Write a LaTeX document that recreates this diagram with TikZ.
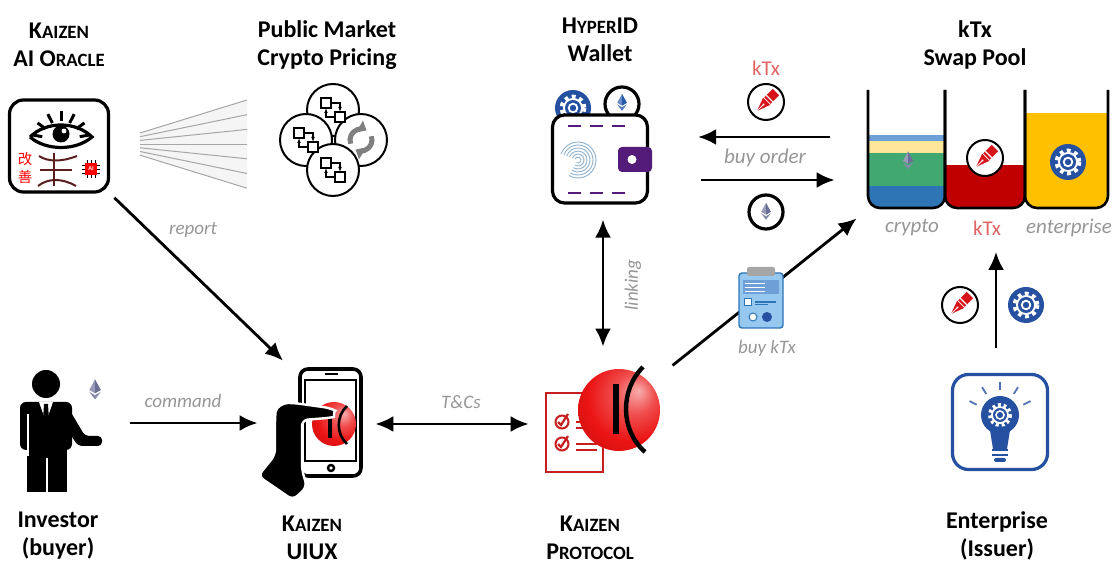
\documentclass[tikz,border=0pt]{standalone}
\usepackage{fontspec}
\setmainfont{Carlito}
\newfontfamily\cjk{Noto Sans CJK SC}
\usetikzlibrary{arrows.meta,positioning,calc}

\definecolor{lblgray}{RGB}{150,150,150}
\definecolor{ktxred}{RGB}{225,100,100}
\definecolor{gearblue}{RGB}{38,80,160}
\definecolor{walletpurple}{RGB}{84,28,120}
\definecolor{ethgray}{RGB}{105,110,150}
\definecolor{ethblue}{RGB}{40,90,170}
\definecolor{nibred}{RGB}{215,20,25}
\definecolor{docred}{RGB}{200,30,30}
\definecolor{pblue}{RGB}{46,117,182}
\definecolor{pltblue}{RGB}{110,160,215}
\definecolor{pyellow}{RGB}{255,230,153}
\definecolor{pgreen}{RGB}{64,168,112}
\definecolor{pred}{RGB}{192,0,0}
\definecolor{pgold}{RGB}{255,192,0}
\definecolor{clipblue}{RGB}{150,200,240}
\definecolor{kanji}{RGB}{90,30,30}
\definecolor{ballred}{RGB}{235,20,20}

\pgfdeclareradialshading{kzball}{\pgfpoint{12bp}{12bp}}{%
  color(0bp)=(ballred!35!white); color(12bp)=(ballred!75!white);
  color(26bp)=(ballred); color(45bp)=(ballred!80!black); color(60bp)=(ballred!70!black)}

% fake small caps for the bold titles
\newcommand{\kzsc}[2]{#1{\fontsize{9.4}{14}\selectfont #2}}

% ethereum diamond, #1 centre, #2 scale, #3 colour
\newcommand{\ethlogo}[3]{%
  \begin{scope}[shift={#1}, scale=#2]
    \fill[#3!70] (0,-10) -- (6,1) -- (0,4.5) -- (-6,1) -- cycle;
    \fill[#3] (0,-10) -- (6,1) -- (0,4.5) -- cycle;
    \fill[#3!80] (-6,3) -- (0,6.5) -- (6,3) -- (0,11) -- cycle;
  \end{scope}}

% blue coin with a white gear
\newcommand{\gearcoin}[1]{%
  \begin{scope}[shift={#1}]
    \fill[gearblue] (0,0) circle (18);
    \draw[white, line width=2.4pt, dash pattern=on 1.8pt off 1.8pt] (0,0) circle (11);
    \fill[white] (0,0) circle (10);
    \fill[gearblue] (0,0) circle (8);
    \draw[white, line width=0.9pt] (0,0) circle (4.3);
  \end{scope}}

% white coin with a red pen nib
\newcommand{\pencoin}[1]{%
  \begin{scope}[shift={#1}]
    \draw[line width=1pt, fill=white] (0,0) circle (18);
    \begin{scope}[rotate=45]
      \fill[nibred] (2,-4.5) rectangle (14,4.5);
      \draw[white, line width=0.6pt] (5,-4.5) -- (5,4.5);
      \fill[nibred] (-13,0) -- (1,-5) -- (1,5) -- cycle;
      \draw[white, line width=0.5pt] (-13,0) -- (-4,0);
      \fill[white] (-3.5,0) circle (1.3);
    \end{scope}
  \end{scope}}

% two boxes with arrows, used in the pricing cluster
\newcommand{\flowbits}[1]{%
  \begin{scope}[shift={#1}]
    \draw[fill=white, line width=0.6pt] (-12,-12) rectangle (-2,-2);
    \draw[fill=white, line width=0.6pt] (2,2) rectangle (12,12);
    \draw[line width=0.6pt, -{Latex[length=2.5pt]}] (-2,-7) -- (7,-7) -- (7,2);
    \draw[line width=0.6pt, -{Latex[length=2.5pt]}] (2,7) -- (-7,7) -- (-7,-2);
  \end{scope}}

\begin{document}
\begin{tikzpicture}[x=0.5pt, y=-0.5pt,
    title/.style={font=\fontsize{12}{14}\selectfont\bfseries, align=center},
    lbl/.style={font=\fontsize{9.5}{11}\selectfont\itshape, text=lblgray},
    flow/.style={line width=1.4pt, -{Latex[length=9pt,width=8pt]}},
    twoway/.style={line width=1.4pt, {Latex[length=9pt,width=8pt]}-{Latex[length=9pt,width=8pt]}},
    spot/.style={inner sep=0pt}]
  \useasboundingbox (0,0) rectangle (1112,565);

  % ---- titles
  \node[title] (tOracle) at (59,45) {\kzsc{K}{AIZEN}\\AI \kzsc{O}{RACLE}};
  \node[title] (tMarket) at (327,45) {Public Market\\Crypto Pricing};
  \node[title] (tWallet) at (600,40) {\kzsc{H}{YPER}ID\\Wallet};
  \node[title] (tPool) at (975,45) {kTx\\Swap Pool};
  \node[title] (tInvestor) at (58,536) {Investor\\(buyer)};
  \node[title] (tUiux) at (312,538) {\kzsc{K}{AIZEN}\\UIUX};
  \node[title] (tProtocol) at (590,538) {\kzsc{K}{AIZEN}\\\kzsc{P}{ROTOCOL}};
  \node[title] (tEnterprise) at (997,536) {Enterprise\\(Issuer)};

  % ---- AI oracle
  \node[draw, line width=1.6pt, rounded corners=7pt, minimum width=49.5pt, minimum height=46pt] (oracle) at (59,146) {};
  \foreach \a in {-80,-54,-27,0,27,54,80}
    \draw[line width=1.5pt] ($(61,140)+(\a-90:19)$) -- ($(61,140)+(\a-90:29)$);
  \draw[line width=1.6pt] (30,137) .. controls (46,121) and (76,121) .. (92,137)
    .. controls (76,151) and (46,151) .. (30,137);
  \fill (61,134) circle (8.5);
  \fill[white] (64,131) circle (2.4);
  \node[text=red, font=\cjk\fontsize{7.2}{8.6}\selectfont, align=center] (kaizenCJK) at (25,168) {改\\善};
  \draw[kanji, line width=1pt] (54,153) -- (54,186);
  \draw[kanji, line width=1pt] (39,156) .. controls (48,162) and (62,162) .. (77,156);
  \draw[kanji, line width=1pt] (40,170) -- (72,170);
  \draw[kanji, line width=1pt] (38,186) .. controls (48,178) and (62,178) .. (76,186);
  \foreach \t in {-4,0,4} {
    \draw[line width=0.4pt] (82,169+\t) -- (100,169+\t);
    \draw[line width=0.4pt] (91+\t,160) -- (91+\t,178);
  }
  \fill[red] (85,163) rectangle (97,175);
  \node[text=white, font=\fontsize{3}{3}\selectfont\bfseries] (chip) at (91,169) {AI};

  % ---- fan of price feeds
  \fill[gray!8] (140,133) -- (247,100) -- (247,188) -- (140,155) -- cycle;
  \foreach \i in {0,...,6}
    \draw[gray!70, line width=0.5pt] (140,133+\i*3.7) -- (247,100+\i*14.7);

  % ---- pricing cluster
  \node[draw, circle, line width=1pt, fill=white, minimum size=26pt] (mTop) at (333,110) {};
  \node[draw, circle, line width=1pt, fill=white, minimum size=26pt] (mLeft) at (306,140) {};
  \node[draw, circle, line width=1pt, fill=white, minimum size=26pt] (mRight) at (361,140) {};
  \node[draw, circle, line width=1pt, fill=white, minimum size=26pt] (mBottom) at (333,170) {};
  \flowbits{(333,110)}
  \flowbits{(306,140)}
  \flowbits{(333,170)}
  \draw[gray, line width=2.5pt, -{Triangle[length=4pt,width=6.5pt]}] (361,140) +(160:11) arc (160:300:11);
  \draw[gray, line width=2.5pt, -{Triangle[length=4pt,width=6.5pt]}] (361,140) +(340:11) arc (340:480:11);

  % ---- wallet
  \gearcoin{(573,108)}
  \draw[line width=1.6pt, fill=white] (622,104) circle (17);
  \ethlogo{(622,102)}{0.8}{ethblue}
  \node[draw, line width=1.6pt, rounded corners=6pt, fill=white,
    minimum width=47.5pt, minimum height=44pt] (wallet) at (600,159) {};
  \foreach \x in {568,590,612} {
    \draw[walletpurple, line width=1.2pt] (\x,126) -- ++(13,0);
    \draw[walletpurple, line width=1.2pt] (\x,193) -- ++(13,0);
  }
  \foreach \r in {3,6,...,18}
    \draw[clipblue!70!gray, line width=0.45pt] (578,160) +(120:\r) arc (120:-160:\r);
  \fill[walletpurple, rounded corners=2pt] (618,147) rectangle (652,172);
  \fill[white] (632,159.5) circle (4.5);

  % ---- swap pool
  \node[spot, minimum width=120pt, minimum height=59pt] (pool) at (988,149) {};
  \begin{scope}
    \clip[rounded corners=6pt] (868,80) -- (868,208) -- (945,208) -- (945,80) -- cycle;
    \fill[pltblue] (868,135) rectangle (945,141);
    \fill[pyellow] (868,141) rectangle (945,153);
    \fill[pgreen] (868,153) rectangle (945,186);
    \fill[pblue] (868,186) rectangle (945,210);
  \end{scope}
  \begin{scope}
    \clip[rounded corners=6pt] (945,80) -- (945,208) -- (1025,208) -- (1025,80) -- cycle;
    \fill[pred] (945,165) rectangle (1025,210);
  \end{scope}
  \begin{scope}
    \clip[rounded corners=6pt] (1025,80) -- (1025,208) -- (1108,208) -- (1108,80) -- cycle;
    \fill[pgold] (1025,113) rectangle (1108,210);
  \end{scope}
  \foreach \a/\b in {868/945,945/1025,1025/1108}
    \draw[line width=1.3pt, rounded corners=6pt] (\a,90) -- (\a,208) -- (\b,208) -- (\b,90);
  \ethlogo{(908,160)}{0.85}{ethgray}
  \pencoin{(985,158)}
  \gearcoin{(1068,162)}
  \node[lbl, font=\fontsize{10.5}{12}\selectfont\itshape] (lCrypto) at (912,228) {crypto};
  \node[text=ktxred, font=\fontsize{10.5}{12}\selectfont] (lKtx) at (987,228) {kTx};
  \node[lbl, font=\fontsize{10.5}{12}\selectfont\itshape] (lEnterprise) at (1069,228) {enterprise};

  % ---- wallet <-> pool
  \draw[flow] ($(pool.west)+(-38,-12)$) -- ($(wallet.east)+(49,-22)$);
  \draw[flow] ($(wallet.east)+(52,21)$) -- ($(pool.west)+(-33,31)$);
  \node[text=ktxred, font=\fontsize{10.5}{12}\selectfont] (lKtxTop) at (766,68) {kTx};
  \pencoin{(766,102)}
  \node[lbl, font=\fontsize{10.5}{12}\selectfont\itshape] (lBuyOrder) at (765,158) {buy order};
  \draw[line width=1.6pt, fill=white] (766,212) circle (17);
  \ethlogo{(766,211)}{0.8}{ethgray}

  % ---- investor
  \node[spot, minimum width=55pt, minimum height=62pt] (investor) at (60,432) {};
  \fill (46,384) circle (14);
  \fill[rounded corners=3pt] (20,450) -- (20,402) -- (72,402) -- (72,450) -- cycle;
  \fill (27,440) rectangle (67,492);
  \fill[rounded corners=2pt] (66,404) -- (85,436) -- (102,436) -- (102,446) -- (78,446) -- (66,428) -- cycle;
  \draw[white, line width=1pt] (28,414) -- (28,456);
  \draw[white, line width=1pt] (47,458) -- (47,493);
  \fill[white] (39,402) -- (46,422) -- (53,402) -- cycle;
  \fill (44,404) -- (48,404) -- (49,420) -- (46,425) -- (43,420) -- cycle;
  \ethlogo{(95,389)}{0.95}{ethgray}

  % ---- UIUX phone
  \node[spot, minimum width=62pt, minimum height=68pt] (uiux) at (315,432) {};
  \draw[line width=1.8pt, rounded corners=4pt, fill=white] (300,369) rectangle (361,476);
  \draw[line width=1.1pt] (305,380) rectangle (356,461);
  \draw[line width=1.2pt] (325,374) -- (338,374);
  \draw[line width=1.2pt] (331,468) circle (3);
  \shade[shading=kzball] (334,424) circle (22);
  \draw[line width=1.6pt] (330,410) -- (330,438);
  \draw[line width=1.3pt] (347,406) .. controls (336,416) and (336,434) .. (347,444);
  \draw[white, line width=1.2pt, fill=black, rounded corners=3pt]
    (330,408) .. controls (334,410) and (334,417) .. (328,418) -- (302,420)
    -- (302,470) -- (307,487) -- (293,500) -- (258,476) -- (275,455)
    -- (275,418) .. controls (276,407) and (283,403) .. (294,403) -- cycle;

  % ---- protocol
  \node[spot, circle, minimum size=40pt] (protocol) at (619,410) {};
  \draw[docred, line width=1.1pt, fill=white] (546,393) rectangle (603,472);
  \foreach \y in {422,444} {
    \draw[docred, line width=1pt] (562,\y) circle (6.5);
    \draw[docred, line width=1.1pt] (558,\y) -- (561,\y+3) -- (568,\y-8);
    \draw[docred, line width=1.1pt] (576,\y) -- (597,\y);
    \draw[docred, line width=1.1pt] (576,\y+6) -- (597,\y+6);
  }
  \shade[shading=kzball] (protocol) circle (41);
  \draw[line width=3pt] (616,384) -- (616,434);
  \draw[line width=2.2pt] (643,367) .. controls (620,390) and (620,430) .. (645,452);

  % ---- enterprise
  \node[draw=gearblue, line width=1.6pt, rounded corners=8pt, minimum width=47.5pt, minimum height=47.5pt] (enterprise) at (1000,422) {};
  \foreach \a in {-64,-32,0,32,64}
    \draw[gearblue!80, line width=0.9pt] ($(1000,416)+(\a-90:26)$) -- ($(1000,416)+(\a-90:34)$);
  \fill[gearblue] (1000,415) circle (19);
  \fill[gearblue] (989,424) -- (1011,424) -- (1007,449) -- (993,449) -- cycle;
  \draw[white, line width=2pt, dash pattern=on 1.4pt off 1.4pt] (1000,415) circle (10);
  \draw[white, line width=0.9pt] (1000,415) circle (8);
  \draw[white, line width=0.8pt] (1000,415) circle (4);
  \foreach \y in {450,455}
    \draw[gearblue, line width=1.4pt] (992,\y) -- (1008,\y);
  \fill[gearblue, rounded corners=1pt] (994,458) rectangle (1006,462);

  % ---- connectors
  \draw[flow, shorten <=3pt] (oracle.south east) -- ($(uiux.north)+(-32,-3)$);
  \node[lbl] (lReport) at (193,230) {report};
  \draw[flow] ($(investor.east)+(15,-9)$) -- ($(uiux.west)+(5,-9)$);
  \node[lbl] (lCommand) at (183,401) {command};
  \draw[twoway] ($(uiux.east)+(-2,-8)$) -- ($(protocol.west)+(-50,14)$);
  \node[lbl] (lTerms) at (461,402) {T\&Cs};
  \draw[twoway] ($(wallet.south)+(3,15)$) -- ($(wallet.south)+(3,142)$);
  \node[lbl, rotate=90] (lLinking) at (633,285) {linking};
  \draw[flow] ($(protocol.north east)+(25,-16)$) -- ($(pool.south west)+(-11,10)$);
  \draw[line width=0.7pt, draw=pblue, fill=clipblue, rounded corners=1.5pt] (739,273) rectangle (783,328);
  \fill[gray!70, rounded corners=1pt] (747,267) rectangle (775,276);
  \fill[pltblue] (743,280) rectangle (779,294);
  \foreach \y in {283,287,291}
    \draw[white, line width=0.3pt] (745,\y) -- (765,\y);
  \draw[pblue, line width=0.5pt, fill=white] (744,299) rectangle (751,306);
  \draw[pblue, line width=0.8pt] (755,302) -- (776,302);
  \draw[pblue, line width=0.5pt] (755,305) -- (768,305);
  \draw[pblue, line width=0.5pt, fill=white] (753,317) circle (4);
  \fill[gearblue] (767,317) circle (5);
  \node[lbl] (lBuyKtx) at (767,348) {buy kTx};
  \draw[flow] ($(enterprise.north)+(-4,-25)$) -- ($(enterprise.north)+(-4,-121)$);
  \pencoin{(960,305)}
  \gearcoin{(1026,305)}
\end{tikzpicture}
\end{document}
